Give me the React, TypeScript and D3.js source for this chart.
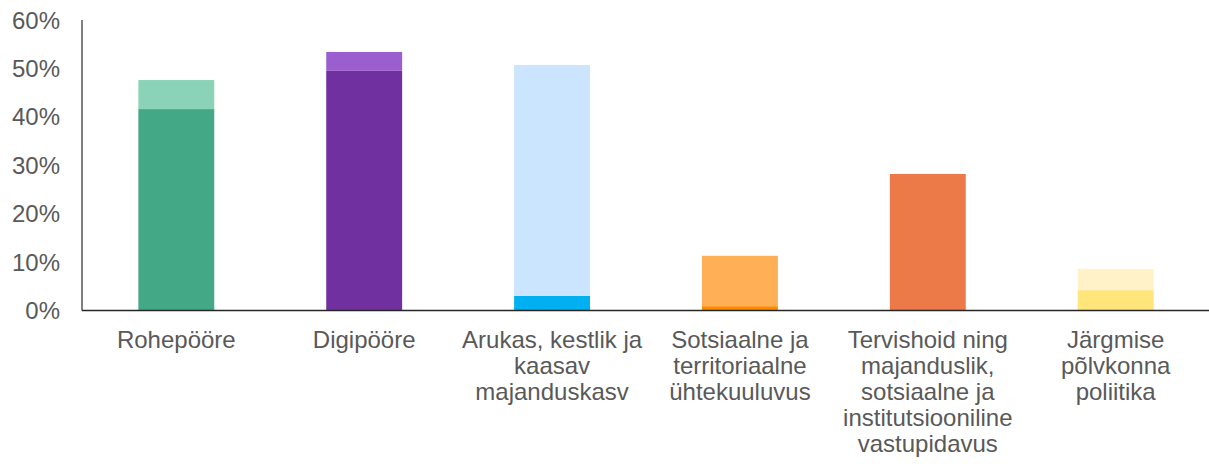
import * as d3 from 'd3'

const CATEGORIES: string[][] = [
  ['Rohepööre'],
  ['Digipööre'],
  ['Arukas, kestlik ja', 'kaasav', 'majanduskasv'],
  ['Sotsiaalne ja', 'territoriaalne', 'ühtekuuluvus'],
  ['Tervishoid ning', 'majanduslik,', 'sotsiaalne ja', 'institutsiooniline', 'vastupidavus'],
  ['Järgmise', 'põlvkonna', 'poliitika'],
]

// base share and the extra share stacked on top (%)
const BASE_VALUES = [41.6, 49.5, 3.0, 0.9, 28.2, 4.2]
const EXTRA_VALUES = [6.0, 3.9, 47.7, 10.4, 0, 4.4]

const BASE_COLORS = ['#43A886', '#7030A0', '#00B0F0', '#FF8C00', '#EC7A49', '#FFE57A']
const EXTRA_COLORS = ['#8AD3B9', '#9B5ECF', '#CCE5FF', '#FFAF55', '#F4A582', '#FFF2C8']

const Y_TICKS = [0, 10, 20, 30, 40, 50, 60]

const W = 1209
const H = 469
const margin = { top: 20, right: -1, bottom: 158.5, left: 82 }

export default function App() {
  const x = d3
    .scaleBand<number>()
    .domain(d3.range(CATEGORIES.length))
    .range([margin.left, W - margin.right])
    .paddingInner(0.596)
    .paddingOuter(0.3)
  const y = d3.scaleLinear().domain([0, 60]).range([H - margin.bottom, margin.top])
  const y0 = y(0)
  const font = 'Arial, "Liberation Sans", sans-serif'
  const fs = 24

  return (
    <svg
      width={W}
      height={H}
      style={{ position: 'absolute', left: 0, top: 0, background: '#fff' }}
      fontFamily={font}
    >
      {BASE_VALUES.map((v, i) => {
        const e = EXTRA_VALUES[i]
        return (
          <g key={i}>
            <rect
              x={x(i)}
              width={x.bandwidth()}
              y={y(v)}
              height={y0 - y(v)}
              fill={BASE_COLORS[i]}
            />
            {e > 0 && (
              <rect
                x={x(i)}
                width={x.bandwidth()}
                y={y(v + e)}
                height={y(v) - y(v + e)}
                fill={EXTRA_COLORS[i]}
              />
            )}
          </g>
        )
      })}

      {/* y axis */}
      <line x1={margin.left} x2={margin.left} y1={y(60)} y2={y0} stroke="#000" strokeWidth={1} />
      {Y_TICKS.map(t => (
        <text
          key={t}
          x={60}
          y={y(t)}
          textAnchor="end"
          dominantBaseline="central"
          fontSize={fs}
          fill="#595959"
        >
          {t}%
        </text>
      ))}

      {/* x axis */}
      <line x1={margin.left} x2={W} y1={y0} y2={y0} stroke="#262626" strokeWidth={1.5} />
      {CATEGORIES.map((lines, i) => (
        <text
          key={i}
          x={(x(i) ?? 0) + x.bandwidth() / 2}
          textAnchor="middle"
          fontSize={fs}
          fill="#595959"
        >
          {lines.map((l, j) => (
            <tspan key={j} x={(x(i) ?? 0) + x.bandwidth() / 2} y={348 + j * 26}>
              {l}
            </tspan>
          ))}
        </text>
      ))}
    </svg>
  )
}
